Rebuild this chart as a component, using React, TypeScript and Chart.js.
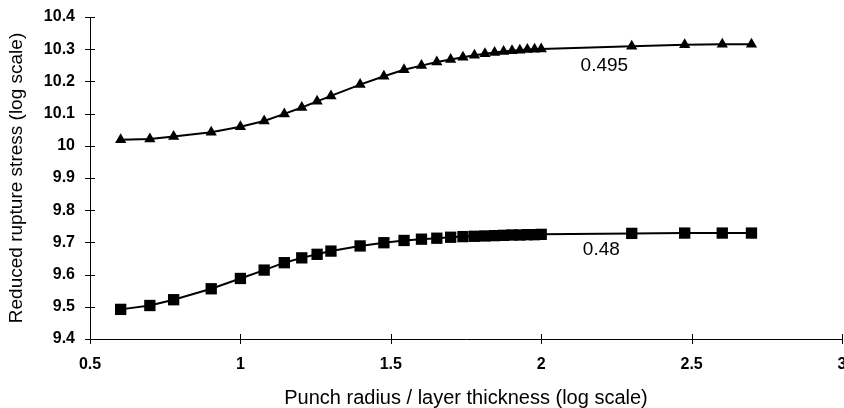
import React, { useEffect, useRef } from "react";
import { Chart, registerables } from "chart.js";

Chart.register(...registerables);

// x: log10(punch radius / layer thickness)
const xValues = [
  0.602, 0.699, 0.778, 0.903, 1.0, 1.079, 1.146, 1.204, 1.255, 1.301,
  1.398, 1.477, 1.544, 1.602, 1.653, 1.699, 1.74, 1.778, 1.813, 1.845,
  1.875, 1.903, 1.929, 1.954, 1.978, 2.0, 2.301, 2.477, 2.602, 2.699,
];

const series495 = [
  10.019, 10.021, 10.029, 10.042, 10.059, 10.077, 10.099, 10.119, 10.138, 10.155,
  10.19, 10.216, 10.236, 10.249, 10.26, 10.268, 10.275, 10.281, 10.286, 10.29,
  10.293, 10.295, 10.297, 10.299, 10.3, 10.301, 10.309, 10.314, 10.315, 10.315,
];

const series48 = [
  9.492, 9.504, 9.522, 9.556, 9.588, 9.614, 9.637, 9.652, 9.663, 9.673,
  9.689, 9.699, 9.706, 9.71, 9.713, 9.716, 9.718, 9.719, 9.72, 9.721,
  9.722, 9.723, 9.723, 9.724, 9.724, 9.725, 9.728, 9.729, 9.729, 9.729,
];

const seriesNames = ["0.495", "0.48"];
// annotation anchor points (data coordinates)
const labelX = [2.21, 2.2];
const labelY = [10.248, 9.676];

const xTitle = "Punch radius / layer thickness (log scale)";
const yTitle = "Reduced rupture stress (log scale)";

const FONT = "'Liberation Sans', Arial, sans-serif";

const fmt = (v: any) => String(Number(Number(v).toFixed(2)));

const crossTicks = {
  id: "crossTicks",
  afterDraw(chart: any) {
    const ctx = chart.ctx;
    const xs = chart.scales.x;
    const ys = chart.scales.y;
    const area = chart.chartArea;
    ctx.save();
    ctx.strokeStyle = "#000";
    ctx.lineWidth = 1;
    ctx.beginPath();
    xs.ticks.forEach((t: any) => {
      const px = Math.round(xs.getPixelForValue(t.value)) + 0.5;
      ctx.moveTo(px, area.bottom - 5);
      ctx.lineTo(px, area.bottom + 5);
    });
    ys.ticks.forEach((t: any) => {
      const py = Math.round(ys.getPixelForValue(t.value)) + 0.5;
      ctx.moveTo(area.left - 5, py);
      ctx.lineTo(area.left + 5, py);
    });
    ctx.stroke();
    ctx.restore();
  },
};

const seriesLabels = {
  id: "seriesLabels",
  afterDatasetsDraw(chart: any) {
    const ctx = chart.ctx;
    const xs = chart.scales.x;
    const ys = chart.scales.y;
    ctx.save();
    ctx.fillStyle = "#000";
    ctx.font = `19px ${FONT}`;
    ctx.textAlign = "center";
    ctx.textBaseline = "middle";
    seriesNames.forEach((name, i) => {
      ctx.fillText(name, xs.getPixelForValue(labelX[i]), ys.getPixelForValue(labelY[i]));
    });
    ctx.restore();
  },
};

export default function App() {
  const ref = useRef<HTMLCanvasElement | null>(null);

  useEffect(() => {
    if (!ref.current) return;
    const chart = new Chart(ref.current, {
      type: "line",
      data: {
        datasets: [
          {
            label: seriesNames[0],
            data: xValues.map((x, i) => ({ x, y: series495[i] })),
            borderColor: "#000",
            backgroundColor: "#000",
            borderWidth: 2,
            pointStyle: "triangle",
            pointRadius: 6.5,
            pointBorderWidth: 0,
            pointBackgroundColor: "#000",
            tension: 0,
          },
          {
            label: seriesNames[1],
            data: xValues.map((x, i) => ({ x, y: series48[i] })),
            borderColor: "#000",
            backgroundColor: "#000",
            borderWidth: 2,
            pointStyle: "rect",
            pointRadius: 8,
            pointBorderWidth: 0,
            pointBackgroundColor: "#000",
            tension: 0,
          },
        ],
      },
      options: {
        animation: false,
        responsive: false,
        maintainAspectRatio: false,
        layout: { padding: { left: 0, right: 0, top: 17, bottom: 0 } },
        plugins: {
          legend: { display: false },
          tooltip: { enabled: false },
        },
        scales: {
          x: {
            type: "linear",
            min: 0.5,
            max: 3,
            ticks: {
              stepSize: 0.5,
              color: "#000",
              font: { family: FONT, size: 16, weight: "bold" },
              padding: 16,
              maxRotation: 0,
              autoSkip: false,
              callback: fmt,
            },
            grid: { display: false, drawTicks: false },
            border: { display: true, color: "#000", width: 1 },
            title: {
              display: true,
              text: xTitle,
              color: "#000",
              font: { family: FONT, size: 20, lineHeight: 1 },
              padding: { top: 0, bottom: 0 },
            },
            afterFit(scale: any) {
              scale.height = 69;
              scale.paddingLeft = 0;
              scale.paddingRight = 0;
            },
          },
          y: {
            type: "linear",
            min: 9.4,
            max: 10.4,
            ticks: {
              stepSize: 0.1,
              color: "#000",
              font: { family: FONT, size: 16, weight: "bold" },
              padding: 15,
              callback: fmt,
            },
            grid: { display: false, drawTicks: false },
            border: { display: true, color: "#000", width: 1 },
            title: {
              display: true,
              text: yTitle,
              color: "#000",
              font: { family: FONT, size: 19, lineHeight: 1 },
              padding: { top: 7, bottom: 7 },
            },
            afterFit(scale: any) {
              scale.width = 90;
              scale.paddingTop = 0;
              scale.paddingBottom = 0;
            },
          },
        },
      },
      plugins: [crossTicks, seriesLabels],
    });
    return () => chart.destroy();
  }, []);

  return (
    <div
      style={{
        position: "absolute",
        left: 0,
        top: 0,
        width: 844,
        height: 408,
        overflow: "hidden",
        background: "#fff",
      }}
    >
      <canvas ref={ref} width={850} height={408} style={{ display: "block" }} />
    </div>
  );
}
